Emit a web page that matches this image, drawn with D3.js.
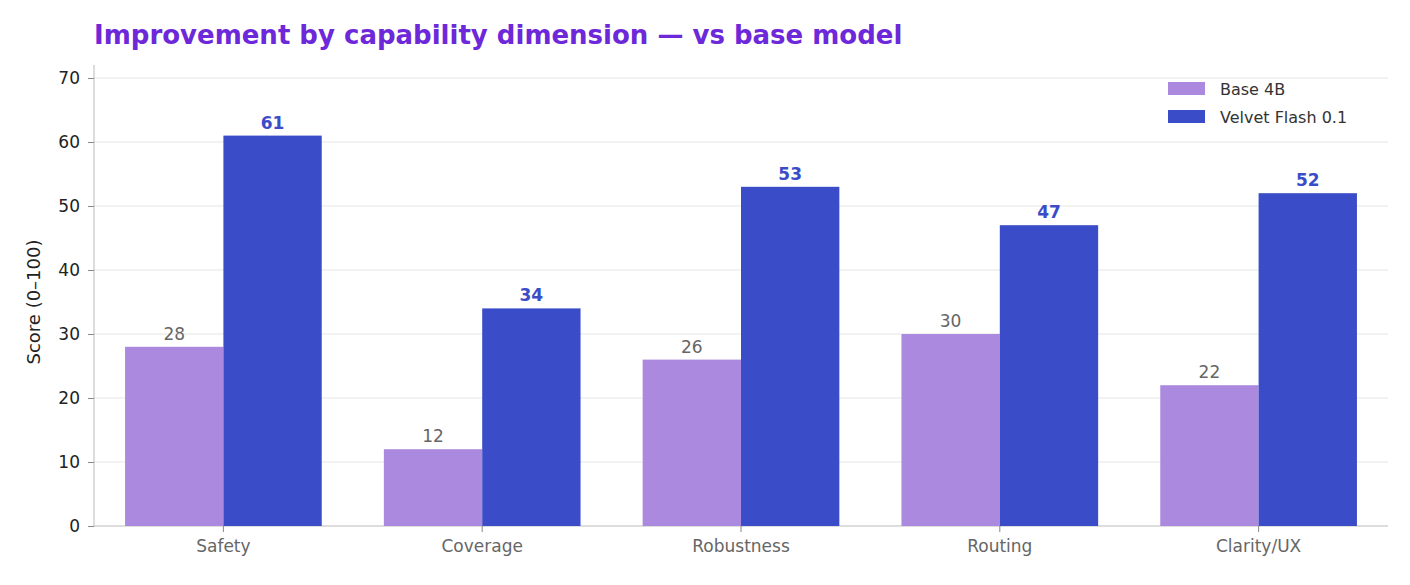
<!DOCTYPE html>
<html>
<head>
<meta charset="utf-8">
<script src="https://d3js.org/d3.v7.min.js"></script>
<style>
  body { margin: 0; background: #fff; }
  text { font-family: "DejaVu Sans", sans-serif; }
</style>
</head>
<body>
<svg id="chart" width="1410" height="585"></svg>
<script>
const categories = ["Safety", "Coverage", "Robustness", "Routing", "Clarity/UX"];
const seriesNames = ["Base 4B", "Velvet Flash 0.1"];
const baseValues = [28, 12, 26, 30, 22];
const velvetValues = [61, 34, 53, 47, 52];
const yTicks = [0, 10, 20, 30, 40, 50, 60, 70];
const colors = ["#ab89de", "#3b4cc8"];

const svg = d3.select("#chart");
const m = {top: 65, left: 94, right: 22, bottom: 59};
const W = 1410, H = 585;

const x = d3.scaleBand().domain(categories).range([m.left, W - m.right]).paddingOuter(0.12).paddingInner(0.24);
const x1 = d3.scaleBand().domain(seriesNames).range([0, x.bandwidth()]);
const y = d3.scaleLinear().domain([0, 70]).range([H - m.bottom, 78]);

// grid
svg.append("g").selectAll("line").data(yTicks.slice(1)).join("line")
  .attr("x1", m.left).attr("x2", W - m.right)
  .attr("y1", d => y(d)).attr("y2", d => y(d))
  .attr("stroke", "#e6e6e6").attr("stroke-width", 1.2);

// y axis
const ya = svg.append("g").attr("transform", `translate(${m.left},0)`)
  .call(d3.axisLeft(y).tickValues(yTicks).tickSize(6).tickPadding(8));
ya.select(".domain").attr("stroke", "#bbb").attr("d", `M0,${y(0)}V${m.top}`);
ya.selectAll(".tick line").attr("stroke", "#888");
ya.selectAll("text").attr("font-size", 17).attr("fill", "#222");

// x axis
const xa = svg.append("g").attr("transform", `translate(0,${y(0)})`)
  .call(d3.axisBottom(x).tickSize(6).tickPadding(8));
xa.select(".domain").attr("stroke", "#bbb").attr("d", `M${m.left},0H${W - m.right}`);
xa.selectAll(".tick line").attr("stroke", "#888");
xa.selectAll("text").attr("font-size", 17).attr("fill", "#666");

const rows = categories.map((c, i) => ({c, vals: [baseValues[i], velvetValues[i]]}));
const g = svg.append("g").selectAll("g").data(rows).join("g")
  .attr("transform", d => `translate(${x(d.c)},0)`);
g.selectAll("rect").data(d => d.vals.map((v, j) => ({v, j}))).join("rect")
  .attr("x", d => x1(seriesNames[d.j])).attr("width", x1.bandwidth())
  .attr("y", d => y(d.v)).attr("height", d => y(0) - y(d.v))
  .attr("fill", d => colors[d.j]);
g.selectAll("text").data(d => d.vals.map((v, j) => ({v, j}))).join("text")
  .attr("x", d => x1(seriesNames[d.j]) + x1.bandwidth() / 2)
  .attr("y", d => y(d.v) - 7)
  .attr("text-anchor", "middle").attr("font-size", 17)
  .attr("font-weight", d => d.j ? "bold" : "normal")
  .attr("fill", d => d.j ? "#3b4cc8" : "#666")
  .text(d => d.v);

// y label
svg.append("text").attr("transform", `translate(40,${y(35)}) rotate(-90)`)
  .attr("text-anchor", "middle").attr("font-size", 18).attr("fill", "#222").text("Score (0–100)");

// title
svg.append("text").attr("x", 94).attr("y", 44).attr("font-size", 26).attr("font-weight", "bold")
  .attr("fill", "#6d28d9").text("Improvement by capability dimension — vs base model");

// legend
const lg = svg.append("g").selectAll("g").data(seriesNames).join("g")
  .attr("transform", (d, i) => `translate(1168,${89 + i * 28})`);
lg.append("rect").attr("y", -7).attr("width", 37).attr("height", 13).attr("fill", (d, i) => colors[i]);
lg.append("text").attr("x", 52).attr("y", 6).attr("font-size", 16).attr("fill", "#333").text(d => d);
</script>
</body>
</html>
